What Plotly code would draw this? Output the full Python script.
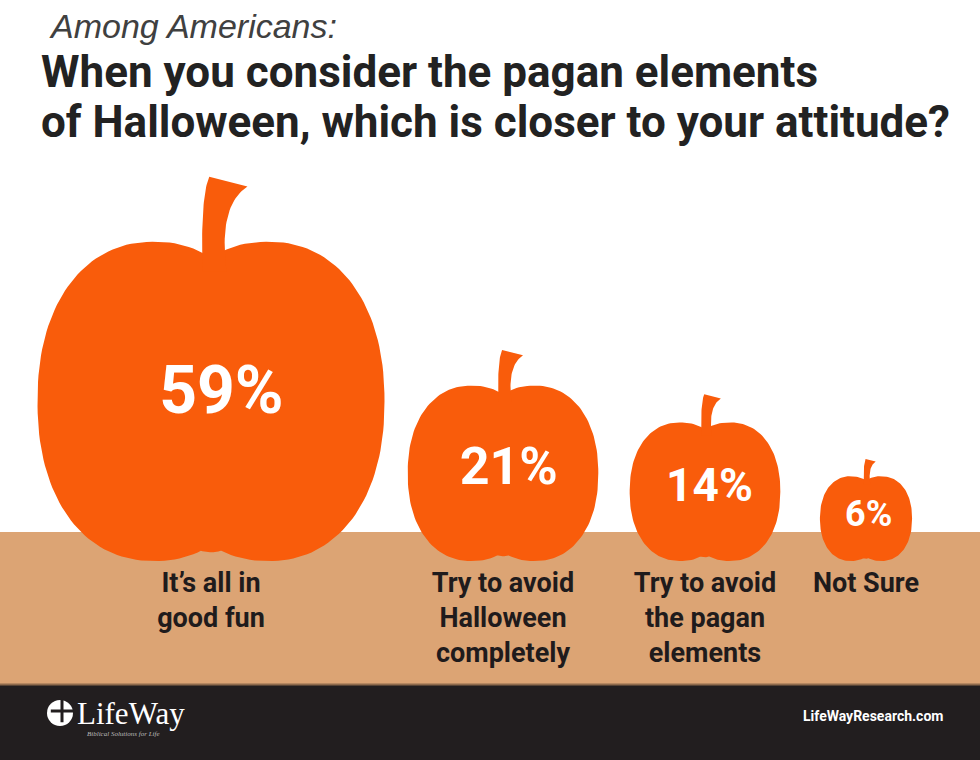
import numpy as np
import plotly.graph_objects as go

# survey answers and shares (%)
categories = [
    "It’s all in<br>good fun",
    "Try to avoid<br>Halloween<br>completely",
    "Try to avoid<br>the pagan<br>elements",
    "Not Sure",
]
shares = [59, 21, 14, 6]

# layout only
centers_x = [211, 503, 705, 866]
pct_font_sizes = [66, 52, 46, 36]
ground_y = 561

ORANGE = "#F95C0B"
TAN = "#DCA474"
DARK = "#221E1F"
TEXT = "#1F1B1C"
TITLE_FONT = "Roboto"
LOBE_N = 2.2


def lobe(cx, cy, a, b, n=LOBE_N, m=160):
    t = np.linspace(0, 2 * np.pi, m)
    c, s = np.cos(t), np.sin(t)
    x = cx + a * np.sign(c) * np.abs(c) ** (2 / n)
    y = cy + b * np.sign(s) * np.abs(s) ** (2 / n)
    return list(x), list(y)


def bezier(p0, p1, p2, m=30):
    t = np.linspace(0, 1, m)[:, None]
    p0, p1, p2 = map(np.array, (p0, p1, p2))
    return (1 - t) ** 2 * p0 + 2 * (1 - t) * t * p1 + t ** 2 * p2


fig = go.Figure()

pct_x, pct_y = [], []
for v, cx in zip(shares, centers_x):
    w = 347 * (v / 59) ** 0.58
    h = 0.92 * w
    b = h / 2
    cy = ground_y - b
    top = ground_y - h
    a = 0.336 * w
    d = 0.164 * w
    notch = cy - 0.9 * b

    # body: two side lobes + a small middle one to soften the bottom dip
    xs, ys = [], []
    for off in (-d, d):
        lx, ly = lobe(cx + off, cy, a, b)
        xs += lx + [None]
        ys += ly + [None]
    bot_c = ground_y - 0.025 * w
    bc = (bot_c - notch) / 2
    lx, ly = lobe(cx, notch + bc, 0.16 * w, bc)
    xs += lx
    ys += ly
    fig.add_trace(go.Scatter(x=xs, y=ys, mode="lines", fill="toself",
                             fillcolor=ORANGE, line=dict(width=0, color=ORANGE),
                             hoverinfo="skip", showlegend=False))

    # stem, curling to the right at the top
    left = bezier((-0.025, 0.04), (-0.03, -0.18), (-0.005, -0.233))
    right = bezier((0.105, -0.205), (0.02, -0.15), (0.045, 0.04))
    pts = np.vstack([left, right])
    fig.add_trace(go.Scatter(x=cx + pts[:, 0] * w, y=notch + pts[:, 1] * w,
                             mode="lines", fill="toself", fillcolor=ORANGE,
                             line=dict(width=0, color=ORANGE),
                             hoverinfo="skip", showlegend=False))

    pct_x.append(cx + 0.03 * w)
    pct_y.append(top + 0.485 * h)

# percentages inside pumpkins
fig.add_trace(go.Scatter(
    x=pct_x, y=pct_y, mode="text",
    text=[f"{v}%" for v in shares],
    textposition="middle center",
    textfont=dict(family=TITLE_FONT, size=pct_font_sizes, color="white", weight="bold"),
    hoverinfo="skip", showlegend=False,
))

# answer labels on the ground
fig.add_trace(go.Scatter(
    x=centers_x, y=[572] * len(categories), mode="text",
    text=categories,
    textposition="bottom center",
    textfont=dict(family=TITLE_FONT, size=27, color=TEXT, weight="bold"),
    hoverinfo="skip", showlegend=False,
))

# logo circle with cross
fig.add_trace(go.Scatter(x=[60], y=[713], mode="markers",
                         marker=dict(symbol="circle", size=26, color="white"),
                         hoverinfo="skip", showlegend=False))
fig.add_trace(go.Scatter(x=[62], y=[711], mode="markers",
                         marker=dict(symbol="cross-thin", size=16,
                                     line=dict(width=3, color=DARK)),
                         hoverinfo="skip", showlegend=False))

shapes = [
    dict(type="rect", xref="x", yref="y", x0=0, x1=980, y0=532, y1=685,
         fillcolor=TAN, line=dict(width=0), layer="below"),
    dict(type="rect", xref="x", yref="y", x0=0, x1=980, y0=685, y1=760,
         fillcolor=DARK, line=dict(width=0), layer="below"),
    dict(type="line", xref="x", yref="y", x0=0, x1=980, y0=684.5, y1=684.5,
         line=dict(width=2, color="#8E6A4C"), layer="below"),
]

annotations = [
    dict(text="Among Americans:", x=48, y=6, xanchor="left", yanchor="top",
         font=dict(family="Liberation Sans", size=34, color="#404040", style="italic")),
    dict(text="When you consider the pagan elements", x=40, y=45,
         xanchor="left", yanchor="top",
         font=dict(family=TITLE_FONT, size=44, color="#222222", weight="bold")),
    dict(text="of Halloween, which is closer to your attitude?", x=40, y=95,
         xanchor="left", yanchor="top",
         font=dict(family=TITLE_FONT, size=44, color="#222222", weight="bold")),
    dict(text="LifeWay", x=76, y=713, xanchor="left", yanchor="middle",
         font=dict(family="Liberation Serif", size=31, color="white")),
    dict(text="Biblical Solutions for Life", x=86, y=734, xanchor="left", yanchor="middle",
         font=dict(family="Liberation Serif", size=7, color="#BBBBBB", style="italic")),
    dict(text="LifeWayResearch.com", x=944, y=716, xanchor="right", yanchor="middle",
         font=dict(family=TITLE_FONT, size=14, color="white", weight="bold")),
]
for an in annotations:
    an.update(xref="x", yref="y", showarrow=False, borderpad=0)

fig.update_layout(
    width=980, height=760,
    margin=dict(l=0, r=0, t=0, b=0),
    paper_bgcolor="white", plot_bgcolor="white",
    xaxis=dict(range=[0, 980], visible=False, fixedrange=True),
    yaxis=dict(range=[760, 0], visible=False, fixedrange=True),
    shapes=shapes,
    annotations=annotations,
    showlegend=False,
)

# drop the default page margin so the figure sits at the window corner
fig.write_html("out.html", config={"displayModeBar": False},
               post_script="document.body.style.margin='0px';")
